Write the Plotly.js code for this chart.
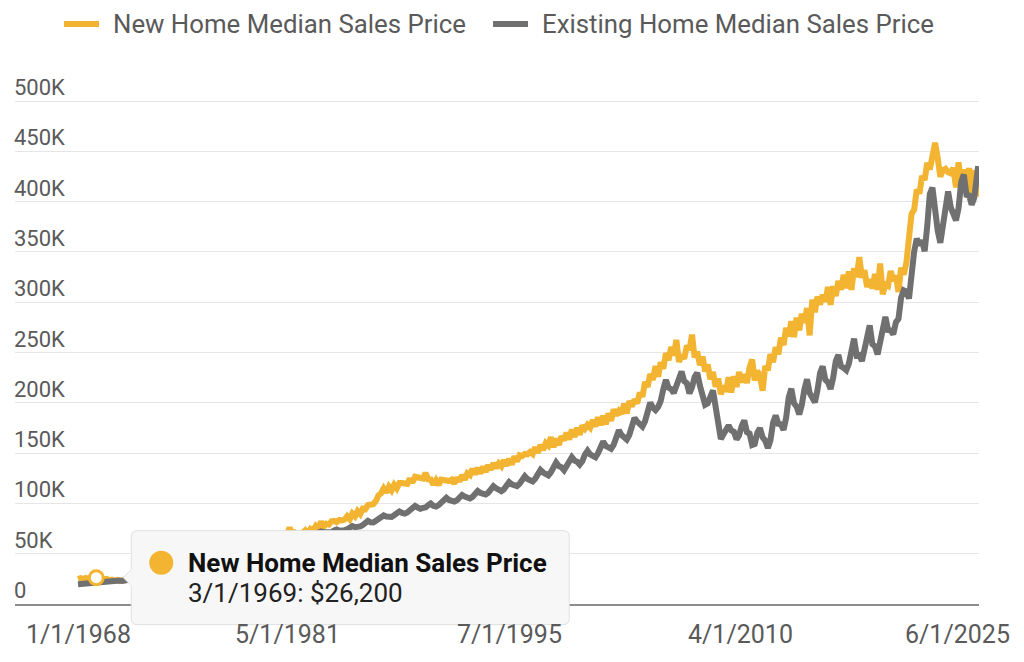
<!DOCTYPE html>
<html>
<head>
<meta charset="utf-8">
<script src="https://cdn.plot.ly/plotly-3.0.1.min.js"></script>
<style>
  html, body { margin: 0; padding: 0; background: #fff; }
  #chart { width: 1024px; height: 662px; }
</style>
</head>
<body>
<div id="chart"></div>
<script>
// Median sales prices in thousands of US dollars, one value every other month
// (Jan, Mar, May, Jul, Sep, Nov) starting January 1968; the last value is June 2025.
const seriesNames = ['New Home Median Sales Price', 'Existing Home Median Sales Price'];
const firstYear = 1968;
const lastDate = '2025-06-01';

const newHomePrice = [
  24.7, 25.6, 24.9, 25.8, 24.8, 25.9,   // 1968
  25.2, 26.2, 25.4, 25.9, 24.6, 24.9,   // 1969
  23.6, 24.2, 23.1, 23.9, 22.8, 23.9,   // 1970
  24.2, 25.3, 24.6, 25.9, 25.1, 26.3,   // 1971
  26.2, 27.6, 27.0, 28.3, 27.8, 29.2,   // 1972
  29.8, 31.4, 31.9, 33.4, 32.9, 34.3,   // 1973
  33.8, 35.4, 35.2, 36.8, 36.3, 37.8,   // 1974
  37.1, 39.2, 38.6, 40.4, 39.8, 41.9,   // 1975
  41.5, 44.0, 43.4, 45.4, 44.9, 46.9,   // 1976
  45.9, 48.7, 48.2, 50.3, 50.1, 52.0,   // 1977
  51.8, 54.7, 54.9, 57.2, 57.1, 59.3,   // 1978
  59.1, 62.3, 62.0, 64.2, 64.1, 66.0,   // 1979
  62.6, 64.9, 63.6, 66.7, 66.0, 68.8,   // 1980
  66.9, 69.8, 69.5, 76.0, 69.1, 71.2,   // 1981
  69.4, 70.0, 70.8, 73.3, 70.2, 74.6,   // 1982
  73.4, 77.4, 74.4, 82.0, 76.8, 79.8,   // 1983
  79.0, 82.2, 82.7, 81.4, 83.5, 83.0,   // 1984
  84.0, 87.2, 84.2, 90.0, 87.2, 92.4,   // 1985
  89.4, 94.8, 94.3, 98.3, 98.1, 99.2,   // 1986
  102.4, 108.0, 110.1, 114.9, 110.9, 116.6, // 1987
  113.0, 118.4, 114.9, 120.3, 120.2, 119.9, // 1988
  119.3, 124.6, 120.8, 126.5, 126.4, 126.1, // 1989
  124.8, 130.2, 124.0, 123.9, 118.8, 123.0, // 1990
  118.2, 123.7, 122.7, 122.4, 122.2, 123.6, // 1991
  119.7, 125.6, 121.8, 128.1, 123.6, 129.8, // 1992
  128.0, 134.3, 129.0, 135.2, 129.7, 136.5, // 1993
  131.4, 138.0, 133.6, 139.9, 135.2, 139.6, // 1994
  136.8, 143.0, 137.4, 144.4, 138.6, 146.7, // 1995
  141.7, 147.9, 147.0, 149.1, 148.7, 151.2, // 1996
  149.1, 155.8, 150.4, 158.2, 153.1, 160.0, // 1997
  157.5, 165.8, 156.1, 164.3, 158.1, 166.5, // 1998
  162.8, 170.4, 163.6, 173.4, 166.0, 175.0, // 1999
  168.4, 177.3, 174.2, 178.1, 175.4, 183.0, // 2000
  176.4, 185.6, 177.8, 187.2, 178.6, 189.5, // 2001
  182.2, 193.3, 187.6, 191.9, 189.0, 199.1, // 2002
  189.4, 201.8, 196.5, 203.2, 199.4, 210.2, // 2003
  206.0, 220.7, 215.9, 228.6, 222.8, 236.6, // 2004
  225.9, 240.3, 233.9, 249.3, 242.5, 255.5, // 2005
  247.1, 262.5, 240.7, 247.4, 244.0, 256.9, // 2006
  252.8, 267.7, 245.0, 251.0, 237.4, 246.0, // 2007
  231.1, 238.1, 223.4, 230.6, 215.9, 224.1, // 2008
  208.4, 217.0, 211.1, 225.4, 210.2, 226.5, // 2009
  215.8, 230.7, 220.5, 228.2, 219.8, 235.0, // 2010
  243.0, 222.3, 231.8, 226.6, 212.0, 236.4, // 2011
  232.3, 248.4, 240.4, 255.2, 248.3, 264.7, // 2012
  257.3, 274.5, 266.2, 281.0, 265.4, 284.6, // 2013
  272.1, 288.5, 279.6, 294.2, 267.0, 302.5, // 2014
  290.0, 305.5, 297.8, 307.3, 300.5, 315.1, // 2015
  297.4, 315.9, 306.3, 321.1, 312.5, 327.3, // 2016
  313.9, 330.6, 312.2, 333.7, 324.9, 344.8, // 2017
  324.3, 331.7, 315.1, 322.6, 313.7, 328.1, // 2018
  312.3, 338.5, 308.0, 317.6, 316.2, 331.1, // 2019
  321.0, 326.5, 310.1, 334.1, 327.4, 339.2, // 2020
  361.0, 387.6, 392.0, 411.8, 408.1, 425.4, // 2021
  421.5, 438.4, 431.9, 447.6, 458.5, 443.1, // 2022
  424.7, 431.2, 432.5, 429.1, 428.1, 433.6, // 2023
  414.2, 439.1, 416.5, 431.9, 412.9, 433.3, // 2024
  408.4, 431.1, 411.9, 405.0                // 2025 (Jan, Mar, May, Jun)
];

const existingHomePrice = [
  19.6, 19.9, 20.4, 20.5, 20.2, 20.0,   // 1968
  20.6, 21.2, 21.8, 22.3, 22.0, 21.7,   // 1969
  22.0, 22.5, 23.2, 23.6, 23.3, 23.0,   // 1970
  23.6, 24.2, 25.0, 25.5, 25.2, 25.0,   // 1971
  25.5, 26.1, 27.0, 27.5, 27.1, 26.9,   // 1972
  27.7, 28.4, 29.3, 29.9, 29.5, 29.2,   // 1973
  30.3, 31.2, 32.3, 32.9, 32.6, 32.4,   // 1974
  33.6, 34.5, 35.6, 36.2, 35.9, 35.7,   // 1975
  36.6, 37.5, 38.4, 39.2, 38.7, 38.6,   // 1976
  40.1, 41.6, 43.3, 44.4, 43.9, 44.0,   // 1977
  45.5, 47.0, 49.0, 50.4, 50.0, 50.2,   // 1978
  52.0, 53.7, 56.0, 57.8, 57.4, 57.6,   // 1979
  59.0, 60.2, 62.3, 64.0, 63.1, 63.2,   // 1980
  63.8, 64.9, 66.8, 68.0, 67.3, 66.9,   // 1981
  66.3, 67.0, 68.5, 69.3, 68.2, 68.0,   // 1982
  68.1, 68.9, 71.0, 72.1, 71.2, 70.8,   // 1983
  70.6, 71.4, 73.1, 74.0, 72.8, 72.5,   // 1984
  73.4, 74.3, 76.0, 77.5, 76.3, 76.0,   // 1985
  77.1, 78.5, 80.9, 82.6, 81.2, 81.0,   // 1986
  82.8, 84.2, 86.3, 88.0, 86.9, 86.1,   // 1987
  86.5, 88.2, 90.3, 92.0, 90.5, 89.8,   // 1988
  91.0, 92.6, 95.1, 97.5, 95.8, 94.7,   // 1989
  95.5, 96.0, 98.2, 99.9, 97.6, 96.8,   // 1990
  98.3, 100.2, 103.5, 105.6, 103.4, 102.9, // 1991
  101.8, 103.1, 106.2, 108.4, 106.8, 106.0, // 1992
  104.9, 106.5, 109.8, 112.3, 110.4, 109.6, // 1993
  108.8, 110.6, 114.5, 117.1, 115.0, 113.7, // 1994
  112.1, 114.0, 118.6, 121.2, 119.0, 118.1, // 1995
  117.3, 119.5, 124.3, 127.0, 124.2, 123.4, // 1996
  121.8, 124.6, 130.0, 133.2, 130.7, 129.8, // 1997
  127.9, 131.0, 136.8, 140.6, 137.2, 136.0, // 1998
  133.0, 136.5, 142.2, 146.0, 142.7, 141.5, // 1999
  138.6, 142.0, 148.5, 152.3, 148.6, 147.7, // 2000
  145.9, 149.8, 157.2, 161.5, 157.0, 155.4, // 2001
  154.3, 158.2, 167.4, 172.6, 168.0, 166.5, // 2002
  163.5, 168.0, 178.7, 184.9, 181.3, 178.0, // 2003
  176.4, 181.5, 193.4, 200.2, 195.1, 192.7, // 2004
  196.0, 201.7, 213.5, 222.8, 215.0, 213.6, // 2005
  209.8, 216.0, 224.5, 231.2, 221.5, 219.4, // 2006
  209.3, 215.3, 225.8, 229.8, 217.2, 207.8, // 2007
  198.0, 199.4, 207.5, 212.3, 196.0, 181.6, // 2008
  164.0, 168.6, 174.2, 177.4, 172.5, 171.3, // 2009
  163.7, 167.5, 177.0, 182.4, 170.8, 169.5, // 2010
  158.1, 159.0, 170.3, 174.8, 165.7, 162.5, // 2011
  155.0, 162.8, 180.1, 187.5, 179.0, 178.6, // 2012
  173.0, 185.0, 205.3, 214.0, 199.6, 196.2, // 2013
  188.5, 197.6, 213.4, 223.3, 209.7, 205.9, // 2014
  200.4, 212.4, 229.6, 236.3, 222.9, 220.5, // 2015
  213.7, 224.7, 241.4, 247.7, 236.2, 234.6, // 2016
  232.4, 238.6, 253.2, 263.8, 246.9, 247.5, // 2017
  241.5, 252.3, 266.0, 276.9, 258.3, 256.2, // 2018
  248.1, 260.1, 279.2, 285.4, 272.4, 272.1, // 2019
  268.0, 280.0, 283.4, 304.5, 311.8, 310.7, // 2020
  303.6, 329.1, 350.3, 363.3, 356.6, 361.4, // 2021
  350.6, 375.3, 407.6, 413.8, 385.0, 371.1, // 2022
  359.0, 375.7, 396.1, 410.0, 394.3, 387.6, // 2023
  381.4, 393.5, 419.3, 426.9, 406.7, 406.1, // 2024
  397.0, 403.7, 422.8, 435.3                // 2025 (Jan, Mar, May, Jun)
];

const xTickDates  = ['1968-01-01', '1981-05-01', '1995-07-01', '2010-04-01', '2025-06-01'];
const xTickLabels = ['1/1/1968', '5/1/1981', '7/1/1995', '4/1/2010', '6/1/2025'];
const yTickValues = [0, 50, 100, 150, 200, 250, 300, 350, 400, 450, 500];
const yTickLabels = ['0', '50K', '100K', '150K', '200K', '250K', '300K', '350K', '400K', '450K', '500K'];

// The highlighted observation shown in the pinned tooltip
const highlightDate = '1969-03-01';

const NEW_COLOR = '#F2B431';
const EXISTING_COLOR = '#707070';
const TEXT_COLOR = '#5a5a5a';
const FONT = 'Roboto, "Open Sans", sans-serif';

const W = 1024, H = 662;
const M = { l: 15, r: 45, t: 100, b: 58 };
const X_RANGE = ['1963-12-25', '2025-06-20'];
const Y_RANGE = [0, 501];

// pixel -> paper helpers for items placed outside the data area
const paperX = px => (px - M.l) / (W - M.l - M.r);
const paperY = py => (H - M.b - py) / (H - M.t - M.b);

// Observation dates: every second month from January of the first year, then the final month
function observationDates(n) {
  const out = [];
  for (let i = 0; i < n - 1; i++) {
    const m = i * 2;
    const y = firstYear + Math.floor(m / 12);
    const mo = (m % 12) + 1;
    out.push(y + '-' + String(mo).padStart(2, '0') + '-01');
  }
  out.push(lastDate);
  return out;
}

const newDates = observationDates(newHomePrice.length);
const existingDates = observationDates(existingHomePrice.length);

const hiIndex = newDates.indexOf(highlightDate);
const hiValue = newHomePrice[hiIndex];

function formatDate(iso) {
  const [y, m, d] = iso.split('-').map(Number);
  return m + '/' + d + '/' + y;
}
const hiText = formatDate(highlightDate) + ': $' + Math.round(hiValue * 1000).toLocaleString('en-US');

// Paper-space position of the highlighted point (so the tooltip is not clipped by the plot area)
const t0 = Date.parse(X_RANGE[0]), t1 = Date.parse(X_RANGE[1]);
const hiPaperX = (Date.parse(highlightDate) - t0) / (t1 - t0);
const hiPaperY = (hiValue - Y_RANGE[0]) / (Y_RANGE[1] - Y_RANGE[0]);

const traces = [
  {
    type: 'scatter', mode: 'lines', name: seriesNames[0],
    x: newDates, y: newHomePrice,
    line: { color: NEW_COLOR, width: 6 }
  },
  {
    type: 'scatter', mode: 'lines', name: seriesNames[1],
    x: existingDates, y: existingHomePrice,
    line: { color: EXISTING_COLOR, width: 6 }
  },
  {
    type: 'scatter', mode: 'markers', name: 'highlight',
    x: [highlightDate], y: [hiValue],
    marker: { size: 14, color: '#ffffff', line: { color: NEW_COLOR, width: 3 } }
  }
];

const annotations = [];
const shapes = [];

// Legend row across the top
const legendItems = [
  { name: seriesNames[0], color: NEW_COLOR, x: 64 },
  { name: seriesNames[1], color: EXISTING_COLOR, x: 493 }
];
const legendY = 24;
legendItems.forEach(it => {
  shapes.push({
    type: 'line', xref: 'paper', yref: 'paper',
    x0: paperX(it.x), x1: paperX(it.x + 35), y0: paperY(legendY), y1: paperY(legendY),
    line: { color: it.color, width: 6 }
  });
  annotations.push({
    xref: 'paper', x: paperX(it.x + 50), xanchor: 'left', xshift: -3,
    yref: 'paper', y: paperY(legendY), yanchor: 'middle',
    text: it.name, showarrow: false,
    font: { family: FONT, size: 25.8, color: TEXT_COLOR }
  });
});

// Value labels sitting just above each gridline
yTickValues.forEach((v, i) => {
  annotations.push({
    xref: 'paper', x: 0, xanchor: 'left', xshift: -3,
    yref: 'y', y: v, yanchor: 'bottom', yshift: -1,
    text: yTickLabels[i], showarrow: false,
    font: { family: FONT, size: 22, color: TEXT_COLOR }
  });
});
// Date labels under the axis (the last one kept inside the page)
xTickDates.forEach((d, i) => {
  annotations.push({
    xref: 'x', x: d, xanchor: 'center',
    xshift: i === xTickDates.length - 1 ? -21 : 0,
    yref: 'paper', y: 0, yanchor: 'top', yshift: -14,
    text: xTickLabels[i], showarrow: false,
    font: { family: FONT, size: 25, color: TEXT_COLOR }
  });
});

// Pinned tooltip: box, colour dot, title and value lines
shapes.push({
  type: 'path', layer: 'above',
  xref: 'paper', yref: 'paper', xsizemode: 'pixel', ysizemode: 'pixel',
  xanchor: hiPaperX, yanchor: hiPaperY,
  path: 'M 41,47 H 467 Q 473,47 473,41 V -41 Q 473,-47 467,-47 H 41 Q 35,-47 35,-41 V -8 L 27,0 L 35,8 V 41 Q 35,47 41,47 Z',
  fillcolor: '#f7f7f7',
  line: { color: '#e0e0e0', width: 1 }
});
shapes.push({
  type: 'circle', layer: 'above',
  xref: 'paper', yref: 'paper', xsizemode: 'pixel', ysizemode: 'pixel',
  xanchor: hiPaperX, yanchor: hiPaperY,
  x0: 53, x1: 77, y0: 3, y1: 27,
  fillcolor: NEW_COLOR, line: { width: 0 }
});
annotations.push({
  xref: 'paper', x: hiPaperX, yref: 'paper', y: hiPaperY,
  xanchor: 'left', yanchor: 'middle', xshift: 90, yshift: 15,
  text: seriesNames[0], showarrow: false,
  font: { family: FONT, size: 26, color: '#111111', weight: 700 }
});
annotations.push({
  xref: 'paper', x: hiPaperX, yref: 'paper', y: hiPaperY,
  xanchor: 'left', yanchor: 'middle', xshift: 90, yshift: -15,
  text: hiText, showarrow: false,
  font: { family: FONT, size: 26, color: '#222222' }
});

const layout = {
  width: W, height: H,
  margin: M,
  paper_bgcolor: '#ffffff', plot_bgcolor: '#ffffff',
  font: { family: FONT, color: TEXT_COLOR },
  showlegend: false,
  xaxis: {
    type: 'date', range: X_RANGE,
    showgrid: false, zeroline: false, showticklabels: false, ticks: '',
    showline: true, linecolor: '#8c8c8c', linewidth: 2
  },
  yaxis: {
    range: Y_RANGE, tickvals: yTickValues, showticklabels: false, ticks: '',
    showgrid: true, gridcolor: '#e6e6e6', gridwidth: 1, zeroline: false, showline: false
  },
  annotations: annotations,
  shapes: shapes,
  hovermode: false
};

Plotly.newPlot('chart', traces, layout, { displayModeBar: false, staticPlot: true });
</script>
</body>
</html>
